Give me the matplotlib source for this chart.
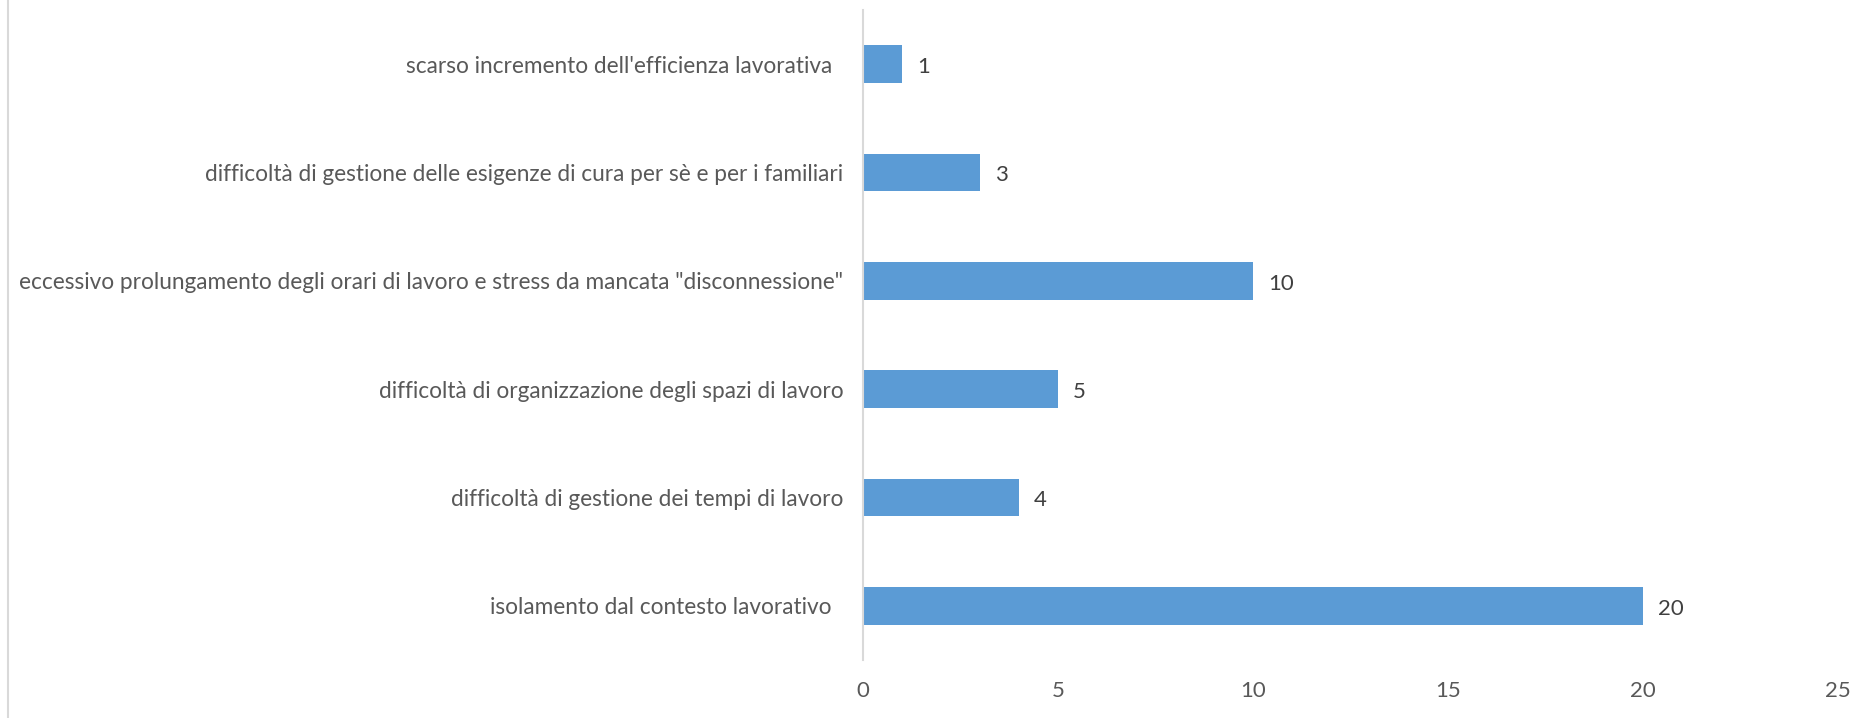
import matplotlib.pyplot as plt
from matplotlib.lines import Line2D

# problems reported with remote work (bottom to top)
categories = [
    "isolamento dal contesto lavorativo  ",
    "difficoltà di gestione dei tempi di lavoro",
    "difficoltà di organizzazione degli spazi di lavoro",
    "eccessivo prolungamento degli orari di lavoro e stress da mancata \"disconnessione\"",
    "difficoltà di gestione delle esigenze di cura per sè e per i familiari",
    "scarso incremento dell'efficienza lavorativa  ",
]
counts = [20, 4, 5, 10, 3, 1]
x_ticks = [0, 5, 10, 15, 20, 25]

plt.rcParams['font.family'] = ['Lato', 'DejaVu Sans']

fig = plt.figure(figsize=(18.67, 7.18), dpi=100)
ax = fig.add_axes([0.4622, 0.0808, 0.5223, 0.9053])

ypos = list(range(len(categories)))
bars = ax.barh(ypos, counts, height=0.35, color='#5B9BD5')

for y, v in zip(ypos, counts):
    ax.annotate(str(v), xy=(v, y), xytext=(15, -3), textcoords='offset pixels',
                va='center', ha='left', fontsize=16, color='#404040')

ax.set_xlim(0, 25)
ax.set_ylim(-0.5, len(categories) - 0.5)
ax.set_xticks(x_ticks)
ax.set_yticks(ypos)
ax.set_yticklabels(categories)
ax.tick_params(axis='y', length=0, pad=14, labelsize=16.3, labelcolor='#595959')
ax.tick_params(axis='x', length=0, pad=15, labelsize=16, labelcolor='#595959')

for side in ['top', 'right', 'bottom']:
    ax.spines[side].set_visible(False)
ax.spines['left'].set_color('#D9D9D9')
ax.spines['left'].set_linewidth(1.5)

# chart area border on the left edge
fig.add_artist(Line2D([8 / 1867, 8 / 1867], [0, 1], color='#D9D9D9', lw=1.5,
                      transform=fig.transFigure))

fig.savefig('out.png', dpi=100)
